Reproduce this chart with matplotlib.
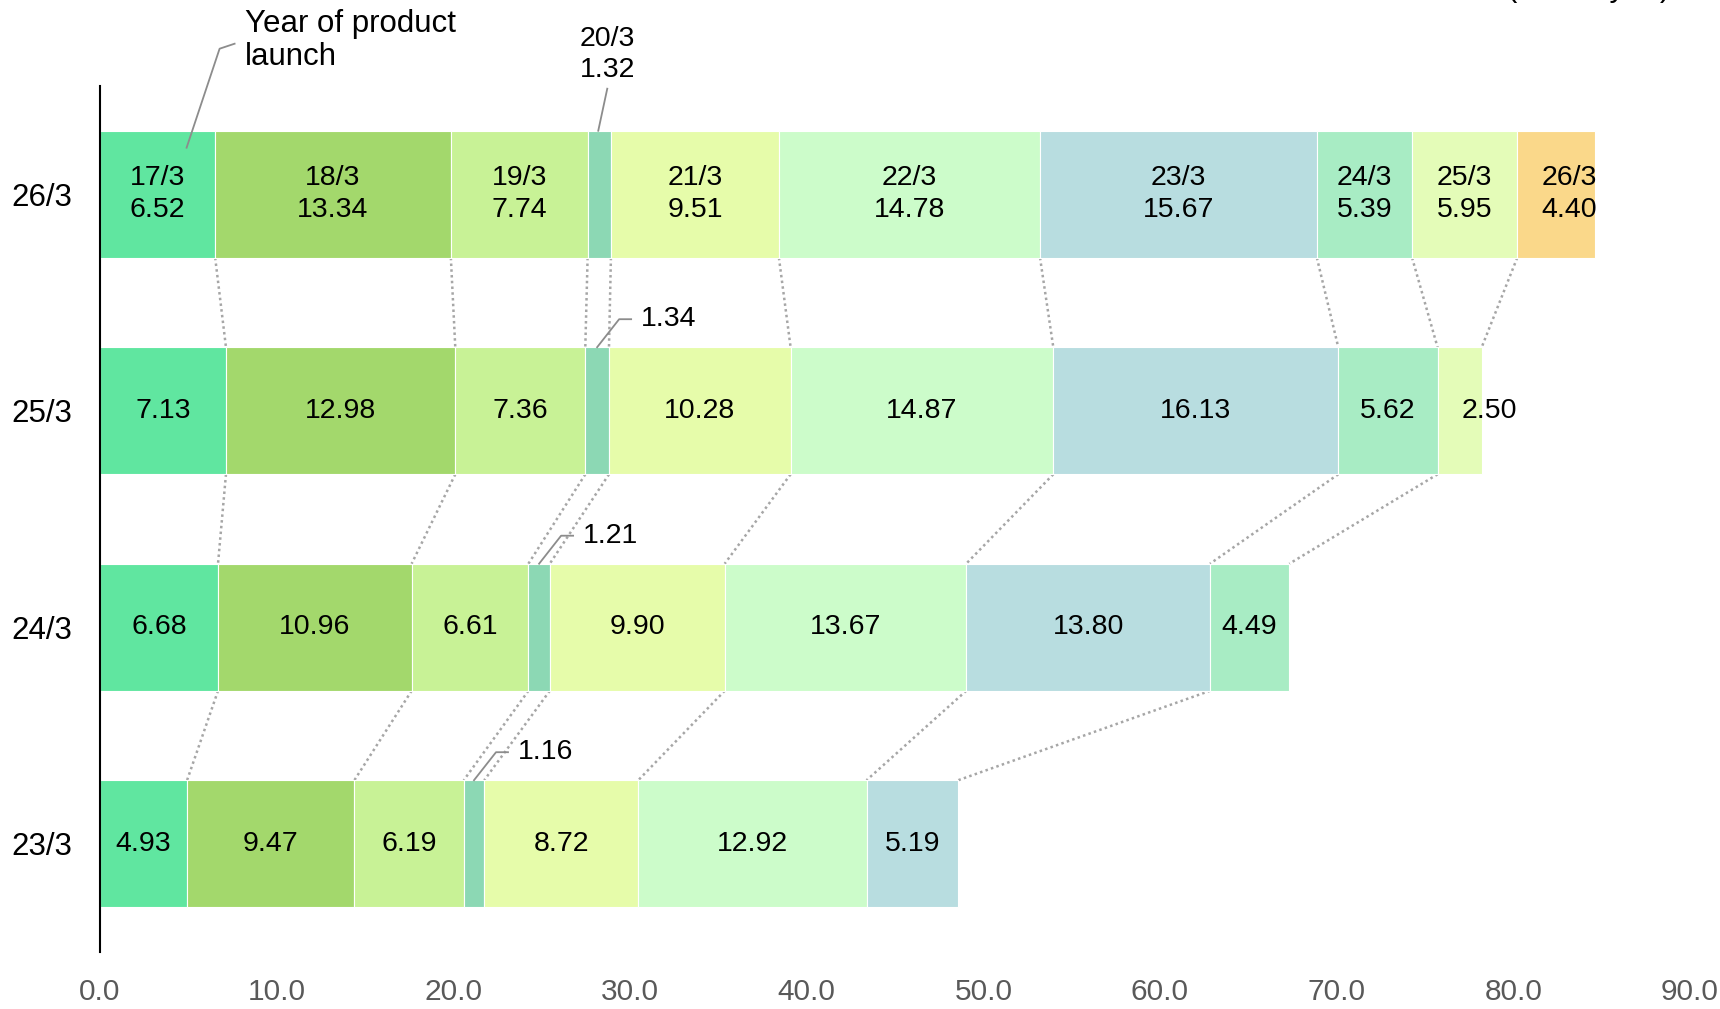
import matplotlib
matplotlib.use('Agg')
import matplotlib.pyplot as plt
import numpy as np

plt.rcParams['font.family'] = ['Liberation Sans', 'DejaVu Sans']

# fiscal years (rows) and product launch years (segments)
years = ['23/3', '24/3', '25/3', '26/3']
launch = ['17/3', '18/3', '19/3', '20/3', '21/3', '22/3', '23/3', '24/3', '25/3', '26/3']
colors = ['#60e6a0', '#a3d86c', '#c8f296', '#8cd8b4', '#e6fcaa',
          '#ccfcca', '#b8dde0', '#a8ecc4', '#e4fcb8', '#fad88a']

v23 = [4.93, 9.47, 6.19, 1.16, 8.72, 12.92, 5.19]
v24 = [6.68, 10.96, 6.61, 1.21, 9.90, 13.67, 13.80, 4.49]
v25 = [7.13, 12.98, 7.36, 1.34, 10.28, 14.87, 16.13, 5.62, 2.50]
v26 = [6.52, 13.34, 7.74, 1.32, 9.51, 14.78, 15.67, 5.39, 5.95, 4.40]
values = [v23, v24, v25, v26]

xticks = np.arange(0, 91, 10)

W, H = 1720, 1009
fig = plt.figure(figsize=(W / 100, H / 100), dpi=100)
ax_l, ax_r, ax_t, ax_b = 100, 1690, 86, 952
ax = fig.add_axes([ax_l / W, 1 - ax_b / H, (ax_r - ax_l) / W, (ax_b - ax_t) / H])
ax.set_xlim(0, 90)
ax.set_ylim(-0.5, 3.5)

# pixel -> data unit conversion
XU = 90 / (ax_r - ax_l)
YU = 4 / (ax_b - ax_t)

bh = 0.587
fs = 20.5      # labels in the bars
fs_big = 22.5  # y ticks, callout, unit
thin = '20/3'
lead_c = '#8c8c8c'

cums = []
for i, vals in enumerate(values):
    left = np.concatenate([[0], np.cumsum(vals)[:-1]])
    cums.append(np.cumsum(vals))
    newest = (i == len(values) - 1)
    for k, (l, v) in enumerate(zip(left, vals)):
        ax.barh(i, v, left=l, height=bh, color=colors[k], edgecolor='white', linewidth=0.8)
        mid = l + v / 2
        top = i + bh / 2
        if launch[k] == thin:
            if newest:
                ax.plot([mid - 1 * XU, mid + 8 * XU], [top, top + 42 * YU],
                        color=lead_c, lw=1.3, clip_on=False)
                ax.text(mid + 8 * XU, top + 48 * YU, f'{launch[k]}\n{v:.2f}', ha='center',
                        va='bottom', fontsize=fs, linespacing=1.25)
            else:
                ax.plot([mid, mid + 22 * XU, mid + 34 * XU],
                        [top, top + 28 * YU, top + 28 * YU],
                        color=lead_c, lw=1.3, clip_on=False)
                ax.text(mid + 44 * XU, top + 28 * YU, f'{v:.2f}', ha='left',
                        va='center', fontsize=fs)
            continue
        txt = f'{launch[k]}\n{v:.2f}' if newest else f'{v:.2f}'
        if k == len(vals) - 1 and i >= 2:
            # partial-year newest segment: text starts near the left edge
            ax.text(l + 24 * XU, i, txt, ha='left', va='center', fontsize=fs, linespacing=1.3)
        else:
            ax.text(mid, i, txt, ha='center', va='center', fontsize=fs, linespacing=1.3)

# dotted connectors between consecutive years
for i in range(len(values) - 1):
    low, up = cums[i], cums[i + 1]
    for k in range(len(low)):
        ax.plot([up[k], low[k]], [i + 1 - bh / 2, i + bh / 2], color='#a6a6a6',
                lw=1.8, linestyle=(0, (1, 1.3)), zorder=0)

# "Year of product launch" callout
x0 = values[-1][0] / 2
y0 = 3 + bh / 2
ax.plot([x0 + 29 * XU, x0 + 62 * XU, x0 + 77 * XU],
        [y0 - 17 * YU, y0 + 82 * YU, y0 + 87 * YU], color=lead_c, lw=1.3, clip_on=False)
ax.text(x0 + 87 * XU, y0 + 90 * YU, 'Year of product\nlaunch', ha='left', va='center',
        fontsize=fs_big, linespacing=1.15)

ax.set_yticks(range(len(years)))
ax.set_yticklabels(years, fontsize=fs_big)
ax.set_xticks(xticks)
ax.set_xticklabels([f'{t:.1f}' for t in xticks], fontsize=21.5, color='#595959')
ax.tick_params(axis='x', length=0, pad=19)
ax.tick_params(axis='y', length=0, pad=20)
for s in ['top', 'right', 'bottom']:
    ax.spines[s].set_visible(False)
ax.spines['left'].set_linewidth(1.5)

fig.text(1670 / W, 1.004, '(Billion yen)', ha='right', va='baseline', fontsize=fs_big)

fig.savefig('out.png', dpi=100)
